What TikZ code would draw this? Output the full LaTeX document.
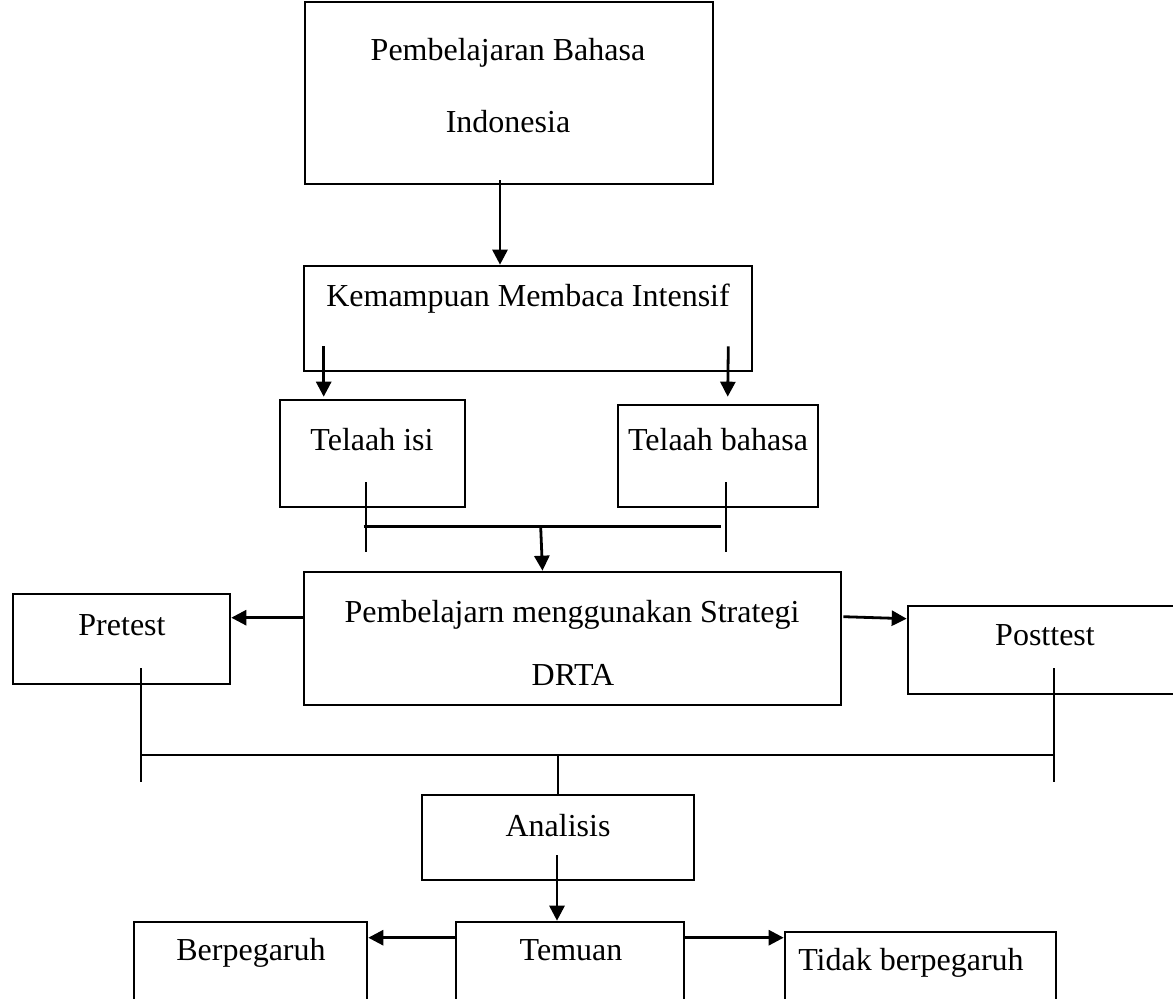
\documentclass[tikz,border=0pt]{standalone}
\usepackage{fontspec}
\setmainfont{Liberation Serif}
\usetikzlibrary{arrows.meta,calc}

\begin{document}
\begin{tikzpicture}[x=0.5pt, y=-0.5pt,
  kotak/.style={rectangle, draw, line width=1.3pt, inner sep=0pt},
  teks/.style={anchor=base, inner sep=0pt, font=\fontsize{16}{19}\selectfont},
  arr/.style={-{Triangle[length=7.5pt, width=7.5pt]}, line width=1.4pt},
  ln/.style={line width=0.9pt}
]
  \clip (0,0) rectangle (1173,999);

  % kotak-kotak
  \node[kotak, minimum width=204pt, minimum height=91pt] (bahasa) at (509,93) {};
  \node[kotak, minimum width=224pt, minimum height=52.5pt] (kem) at (528,318.5) {};
  \node[kotak, minimum width=92.5pt, minimum height=53.5pt] (isi) at (372.5,453.5) {};
  \node[kotak, minimum width=100pt, minimum height=51pt] (bhs) at (718,456) {};
  \node[kotak, minimum width=268.5pt, minimum height=66.5pt] (drta) at (572.5,638.5) {};
  \node[kotak, minimum width=108.5pt, minimum height=45pt] (pre) at (121.5,639) {};
  \node[kotak, minimum width=138.5pt, minimum height=44pt] (post) at (1046.5,650) {};
  \node[kotak, minimum width=136pt, minimum height=42.5pt] (anls) at (558,837.5) {};
  \node[kotak, minimum width=114pt, minimum height=44pt] (temuan) at (570,966) {};
  \node[kotak, minimum width=116.5pt, minimum height=44pt] (berp) at (250.5,966) {};
  \node[kotak, minimum width=135.5pt, minimum height=39pt] (tidak) at (920.5,971) {};

  % teks
  \node[teks] (bahasa-a) at (508,61) {Pembelajaran Bahasa};
  \node[teks] (bahasa-b) at (508,133) {Indonesia};
  \node[teks] (kem-t) at (528,307) {Kemampuan Membaca Intensif};
  \node[teks] (isi-t) at (372,451) {Telaah isi};
  \node[teks] (bhs-t) at (718,451) {Telaah bahasa};
  \node[teks] (drta-a) at (572,623) {Pembelajarn menggunakan Strategi};
  \node[teks] (drta-b) at (573,686) {DRTA};
  \node[teks] (pre-t) at (122,636) {Pretest};
  \node[teks] (post-t) at (1045,646) {Posttest};
  \node[teks] (anls-t) at (558,836) {Analisis};
  \node[teks] (temuan-t) at (571,960) {Temuan};
  \node[teks] (berp-t) at (251,960) {Berpegaruh};
  \node[teks] (tidak-t) at (911,970) {Tidak berpegaruh};

  % panah dan garis
  \draw[arr] ($(bahasa.south)+(-9,-5)$) -- ($(kem.north)+(-28,0)$);
  \draw[arr] ($(kem.south west)+(21,-26)$) -- ($(isi.north west)+(45,-2)$);
  \draw[arr] ($(kem.south east)+(-25,-26)$) -- ($(bhs.north west)+(111,-7)$);

  \coordinate (isi-j) at ($(isi.south west)+(87,18)$);
  \coordinate (bhs-j) at ($(bhs.south west)+(109,18)$);
  \draw[ln] ($(isi-j)+(0,-44)$) -- ($(isi-j)+(0,26)$);
  \draw[ln] ($(bhs-j)+(0,-44)$) -- ($(bhs-j)+(0,26)$);
  \draw[ln, line width=1.3pt] ($(isi-j)+(-2,0)$) -- ($(bhs-j)+(-5,0)$);
  \draw[arr] ($(isi-j)!0.486!(bhs-j)$) -- ($(drta.north)+(-30,0)$);

  \draw[arr] ($(drta.north west)+(0,47)$) -- ($(pre.north east)+(0,25)$);
  \draw[arr] ($(drta.north east)+(1,46)$) -- ($(post.north west)+(0,14)$);

  \coordinate (pre-j) at ($(pre.south west)+(129,70)$);
  \coordinate (post-j) at ($(post.south west)+(147,60)$);
  \draw[ln] ($(pre-j)+(0,-87)$) -- ($(pre-j)+(0,27)$);
  \draw[ln] ($(post-j)+(0,-87)$) -- ($(post-j)+(0,27)$);
  \draw[ln] (pre-j) -- (post-j);
  \draw[ln] (pre-j -| anls.north) -- (anls.north);

  \draw[arr] ($(anls.south)+(-1,-26)$) -- ($(temuan.north)+(-13,0)$);
  \draw[arr] ($(temuan.north west)+(0,17)$) -- ($(berp.north east)+(0,17)$);
  \draw[arr] ($(temuan.north east)+(0,17)$) -- ($(tidak.north west)+(0,7)$);
\end{tikzpicture}
\end{document}
